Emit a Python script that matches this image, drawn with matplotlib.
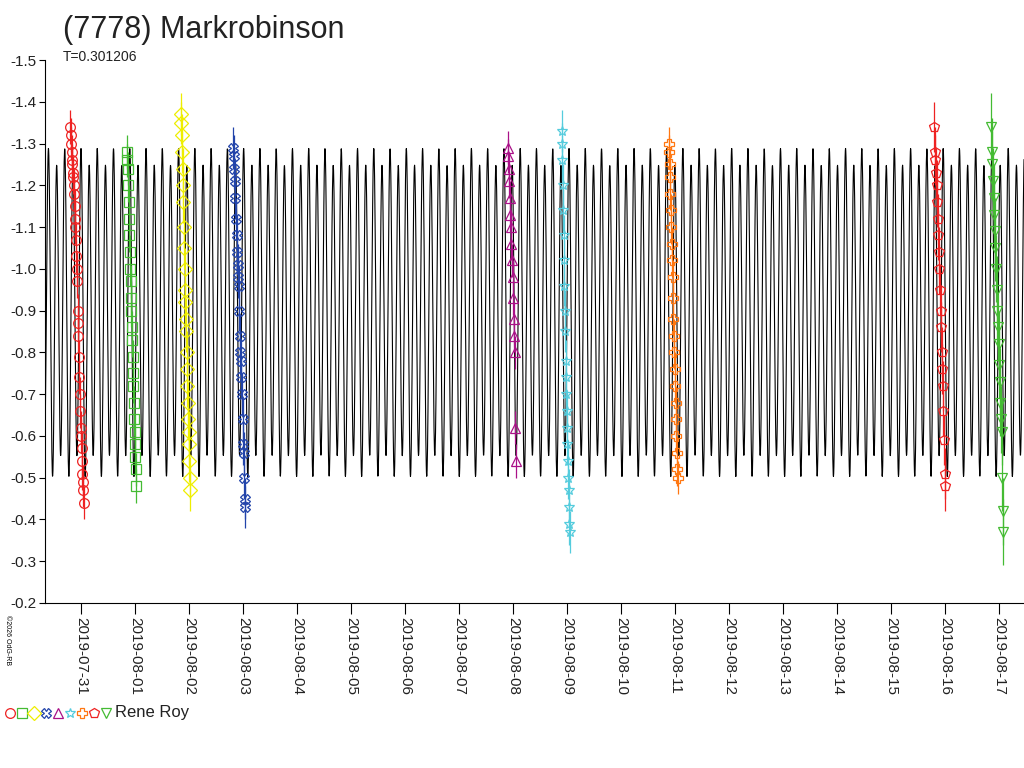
import numpy as np
import matplotlib.pyplot as plt
import matplotlib.transforms as mtransforms

plt.rcParams['font.family'] = ['Liberation Sans', 'DejaVu Sans']

# period in days, model Fourier coefficients
periode = 0.301206
c0 = -0.898
a_cos = [-0.02, -0.37]
b_sin = [0.025, 0.0]

dates = ['2019-07-31', '2019-08-01', '2019-08-02', '2019-08-03', '2019-08-04', '2019-08-05',
         '2019-08-06', '2019-08-07', '2019-08-08', '2019-08-09', '2019-08-10', '2019-08-11',
         '2019-08-12', '2019-08-13', '2019-08-14', '2019-08-15', '2019-08-16', '2019-08-17']

# sessions: (start, end) in days from 2019-07-31, magnitudes, colour, marker
s_temps = [(-0.2, 0.05), (-0.15, 0.02), (-0.15, 0.02), (-0.18, 0.04), (-0.1, 0.05),
           (-0.1, 0.05), (-0.12, 0.05), (-0.2, 0.0), (-0.15, 0.08)]
s_mags = [
    [-1.34, -1.32, -1.30, -1.28, -1.26, -1.25, -1.23, -1.22, -1.20, -1.18, -1.15, -1.12, -1.10,
     -1.07, -1.03, -1.00, -0.97, -0.90, -0.87, -0.84, -0.79, -0.74, -0.70, -0.66, -0.62, -0.60,
     -0.57, -0.54, -0.51, -0.49, -0.47, -0.44],
    [-1.28, -1.26, -1.24, -1.20, -1.16, -1.12, -1.08, -1.04, -1.00, -0.97, -0.93, -0.90, -0.86,
     -0.83, -0.79, -0.75, -0.72, -0.68, -0.64, -0.61, -0.58, -0.55, -0.52, -0.48],
    [-1.37, -1.35, -1.32, -1.28, -1.24, -1.20, -1.16, -1.10, -1.05, -1.00, -0.95, -0.92, -0.88,
     -0.85, -0.80, -0.76, -0.72, -0.68, -0.64, -0.61, -0.58, -0.54, -0.50, -0.47],
    [-1.29, -1.27, -1.24, -1.21, -1.17, -1.12, -1.08, -1.04, -1.01, -0.98, -0.96, -0.90, -0.84,
     -0.80, -0.78, -0.74, -0.70, -0.64, -0.58, -0.56, -0.50, -0.45, -0.43],
    [-1.29, -1.27, -1.24, -1.21, -1.17, -1.13, -1.10, -1.06, -1.02, -0.98, -0.93, -0.88, -0.84,
     -0.80, -0.62, -0.54],
    [-1.33, -1.30, -1.26, -1.20, -1.14, -1.08, -1.02, -0.96, -0.90, -0.85, -0.78, -0.74, -0.70,
     -0.66, -0.62, -0.58, -0.54, -0.50, -0.47, -0.43, -0.39, -0.37],
    [-1.30, -1.28, -1.25, -1.22, -1.18, -1.14, -1.10, -1.06, -1.02, -0.98, -0.93, -0.88, -0.84,
     -0.80, -0.76, -0.72, -0.68, -0.64, -0.60, -0.56, -0.52, -0.50],
    [-1.34, -1.28, -1.26, -1.23, -1.20, -1.16, -1.12, -1.08, -1.04, -1.00, -0.95, -0.90, -0.86,
     -0.80, -0.76, -0.72, -0.66, -0.59, -0.51, -0.48],
    [-1.34, -1.28, -1.25, -1.21, -1.17, -1.13, -1.09, -1.05, -1.00, -0.95, -0.90, -0.86, -0.82,
     -0.77, -0.73, -0.68, -0.64, -0.61, -0.50, -0.42, -0.37],
]
s_jours = [0, 1, 2, 3, 8, 9, 11, 16, 17]
s_couleurs = ['#ee2222', '#44bb33', '#eeee00', '#2244aa', '#aa1188', '#55ccdd', '#ff7711',
              '#ee2222', '#44bb33']
s_marqueurs = ['o', 's', 'D', 'X', '^', '*', 'P', 'p', 'v']
s_err = [0.04, 0.04, 0.05, 0.05, 0.04, 0.05, 0.04, 0.06, 0.08]

fig = plt.figure(figsize=(10.24, 7.68), dpi=100)
ax = fig.add_axes([45 / 1024, 165 / 768, 979 / 1024, 543 / 768])

t = np.arange(-0.7, 17.5, 0.004)
phi = 2 * np.pi * t / periode
m = c0 + sum(a * np.cos((k + 1) * phi) + b * np.sin((k + 1) * phi)
             for k, (a, b) in enumerate(zip(a_cos, b_sin)))
ax.plot(t, m, color='black', lw=0.8)

for jour, (t0, t1), mags, col, mk, er in zip(s_jours, s_temps, s_mags, s_couleurs,
                                           s_marqueurs, s_err):
    x = jour + np.linspace(t0, t1, len(mags))
    ax.errorbar(x, mags, yerr=er, fmt=mk, color=col, mfc='none', ms=7, mew=0.9,
                elinewidth=0.9, capsize=0)

ax.set_xlim(-0.667, 17.46)
ax.set_ylim(-0.2, -1.5)
ax.set_yticks(np.arange(-1.5, -0.15, 0.1))
ax.set_yticklabels(['%.1f' % v for v in np.arange(-1.5, -0.15, 0.1)], fontsize=11,
                   color='#222222')
ax.set_xticks(range(len(dates)))
ax.set_xticklabels(dates, rotation=-90, fontsize=11, va='top', ha='center', color='#222222')
off = mtransforms.ScaledTranslation(9 / 100, 0, fig.dpi_scale_trans)
for lab in ax.get_xticklabels():
    lab.set_transform(lab.get_transform() + off)
ax.tick_params(axis='x', direction='out', length=8, pad=2)
ax.tick_params(axis='y', direction='out', length=4, pad=2)
ax.spines['top'].set_visible(False)
ax.spines['right'].set_visible(False)

fig.text(63 / 1024, 1 - 30 / 768, '(7778) Markrobinson', fontsize=22, va='center',
         color='#222222')
fig.text(63 / 1024, 1 - 57 / 768, 'T=0.301206', fontsize=10, va='center', color='#222222')
fig.text(4 / 1024, 1 - 615 / 768, '©2026 OdG-RB', fontsize=5, rotation=-90, va='top')

# legend row
lx = 10
for col, mk in zip(s_couleurs, s_marqueurs):
    fig.lines.append(plt.Line2D([lx / 1024], [1 - 713 / 768], marker=mk, color=col, mfc='none',
                                ms=7, mew=0.9, transform=fig.transFigure))
    lx += 12
fig.text(115 / 1024, 1 - 712 / 768, 'Rene Roy', fontsize=12, va='center', color='#222222')

fig.savefig('out.png')
